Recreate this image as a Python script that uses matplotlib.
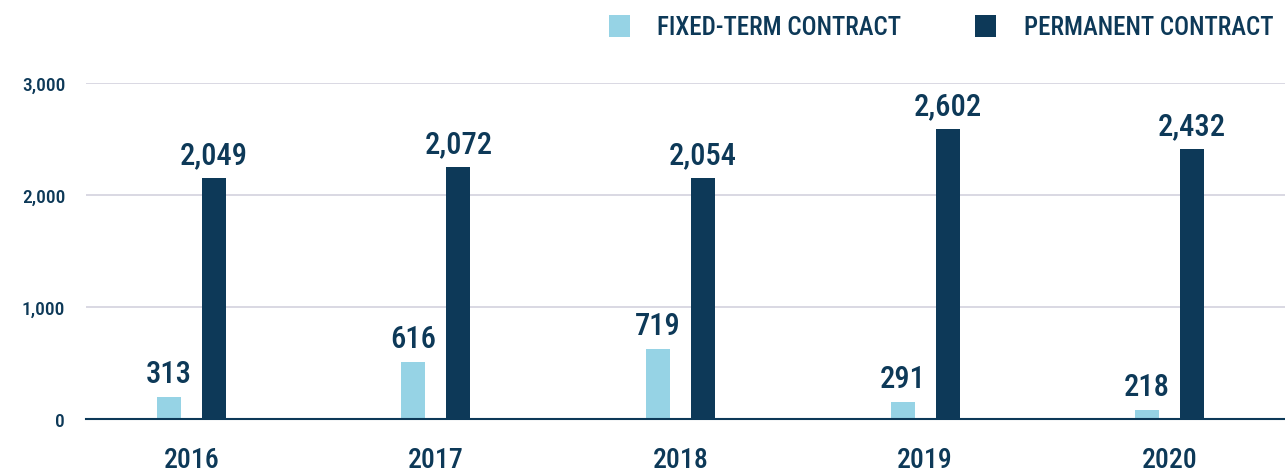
"""
Fixed-term vs permanent contracts per year, grouped bar chart.

Outputs:
    out.png
"""

import matplotlib.pyplot as plt
import numpy as np
from matplotlib import font_manager

# --- Data ---
years = ["2016", "2017", "2018", "2019", "2020"]
fixed_heights = [202, 512, 628, 154, 83]
permanent_heights = [2155, 2253, 2155, 2594, 2414]
fixed_labels = ["313", "616", "719", "291", "218"]
permanent_labels = ["2,049", "2,072", "2,054", "2,602", "2,432"]
y_ticks = [0, 1000, 2000, 3000]
y_tick_labels = ["0", "1,000", "2,000", "3,000"]

LIGHT = "#96d3e5"
DARK = "#0d3958"
TEXT = "#0d3958"
GRID = "#d3d2de"
WEIGHT = "medium"


def pick_condensed_font() -> tuple[str, str]:
    """Find a narrow sans face among the installed fonts."""
    fonts = font_manager.fontManager.ttflist
    names = {f.name for f in fonts}
    for name in ["Roboto Condensed", "Liberation Sans Narrow", "Open Sans Condensed",
                 "Noto Sans Condensed", "DejaVu Sans Condensed", "Arial Narrow"]:
        if name in names:
            return name, "normal"
    for f in fonts:
        if str(f.stretch) in ("condensed", "semi-condensed", "extra-condensed") and "Mono" not in f.name \
                and "Serif" not in f.name:
            return f.name, f.stretch
    return "DejaVu Sans", "normal"


FONT, STRETCH = pick_condensed_font()
plt.rcParams["font.family"] = [FONT, "DejaVu Sans"]
plt.rcParams["font.stretch"] = STRETCH


def main() -> None:
    fig = plt.figure(figsize=(12.85, 4.77), dpi=100)
    ax = fig.add_axes([86 / 1285, 1 - 420.3 / 477, (1285 - 86) / 1285, 336 / 477])

    x = np.arange(len(years))
    width = 0.098
    offset = 0.092

    ax.bar(x - offset, fixed_heights, width, color=LIGHT, label="FIXED-TERM CONTRACT", zorder=3)
    ax.bar(x + offset, permanent_heights, width, color=DARK, label="PERMANENT CONTRACT", zorder=3)

    # Value labels
    for xi, h, lab in zip(x, fixed_heights, fixed_labels):
        ax.annotate(lab, (xi - offset, h), xytext=(0, 6.5), textcoords="offset points",
                    ha="center", va="bottom", fontsize=22, fontweight=WEIGHT,
                    color=TEXT, clip_on=False)
    for xi, h, lab in zip(x, permanent_heights, permanent_labels):
        ax.annotate(lab, (xi + offset, h), xytext=(0, 6.5), textcoords="offset points",
                    ha="center", va="bottom", fontsize=22, fontweight=WEIGHT,
                    color=TEXT, clip_on=False)

    ax.set_xlim(-0.431, 4.472)
    ax.set_ylim(0, 3000)
    ax.set_xticks(x)
    ax.set_xticklabels(years, fontsize=20, fontweight=WEIGHT, color=TEXT)
    ax.set_yticks(y_ticks)
    ax.set_yticklabels(y_tick_labels, fontsize=14, fontweight=WEIGHT, color=TEXT)
    ax.tick_params(axis="both", length=0)
    ax.tick_params(axis="x", pad=19)
    ax.tick_params(axis="y", pad=15)

    ax.grid(axis="y", color=GRID, linewidth=1.2, zorder=0)
    ax.set_axisbelow(True)
    for side in ["top", "right", "left"]:
        ax.spines[side].set_visible(False)
    ax.spines["bottom"].set_color(DARK)
    ax.spines["bottom"].set_linewidth(1.5)
    ax.spines["bottom"].set_zorder(4)

    leg = ax.legend(loc="upper right", bbox_to_anchor=(1.009, 1.27), ncol=2, frameon=False,
                    prop={"size": 18, "weight": WEIGHT},
                    handlelength=0.85, handleheight=0.95, handletextpad=1.1,
                    columnspacing=2.95)
    for t in leg.get_texts():
        t.set_color(TEXT)

    fig.savefig("out.png", dpi=100)
    plt.close(fig)


if __name__ == "__main__":
    main()
